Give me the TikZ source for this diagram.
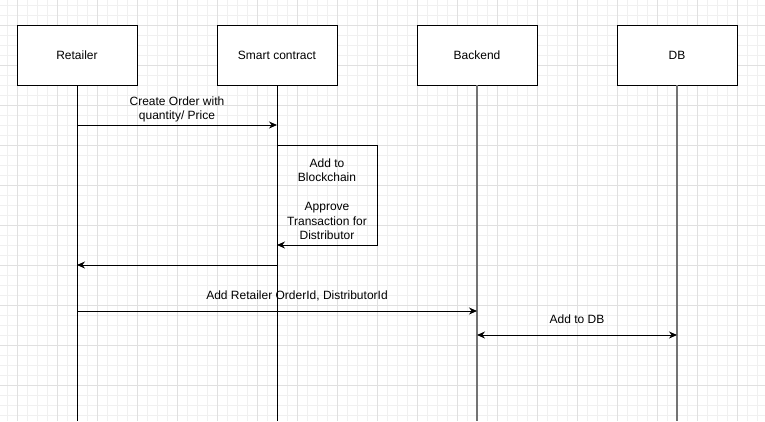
\documentclass[tikz,border=0pt]{standalone}
\usepackage{fontspec}
\setmainfont{Liberation Sans}
\usetikzlibrary{arrows.meta}
\tikzset{
  actor/.style={draw, fill=white, line width=1pt, minimum width=120pt, minimum height=60pt, inner sep=0pt, outer sep=0pt},
  msg/.style={line width=1pt, -{Stealth[length=8pt,width=7pt]}},
  lbl/.style={midway, yshift=15.5pt, align=center},
  minor/.style={black!6, line width=0.8pt},
  major/.style={black!12, line width=0.8pt}
}
\begin{document}
\begin{tikzpicture}[x=1pt, y=-1pt, font=\fontsize{12}{14.5}\selectfont]
  \useasboundingbox (0,0) rectangle (765,421);
  \fill[white] (0,0) rectangle (765,421);
  \foreach \x in {7,17,...,757} \draw[minor] (\x,0) -- (\x,421);
  \foreach \y in {5,15,...,415} \draw[minor] (0,\y) -- (765,\y);
  \foreach \x in {17,57,...,737} \draw[major] (\x,0) -- (\x,421);
  \foreach \y in {25,65,...,385} \draw[major] (0,\y) -- (765,\y);
  \draw
    (77,55) node[actor] (retailer){Retailer}
    (277,55) node[actor] (contract){Smart contract}
    (477,55) node[actor] (backend){Backend}
    (677,55) node[actor] (db){DB};
  \coordinate (retailer end) at (77,421);
  \coordinate (contract end) at (277,421);
  \coordinate (backend end) at (477,421);
  \coordinate (db end) at (677,421);
  \coordinate (r1) at (77,125);
  \coordinate (c1) at (277,125);
  \coordinate (c2) at (277,145);
  \coordinate (a1) at (377,145);
  \coordinate (a2) at (377,245);
  \coordinate (c3) at (277,245);
  \coordinate (c4) at (277,265);
  \coordinate (r4) at (77,265);
  \coordinate (r5) at (77,311);
  \coordinate (b5) at (477,311);
  \coordinate (b6) at (477,335);
  \coordinate (d6) at (677,335);
  \begin{scope}[line width=1pt]
    \draw (retailer) -- (retailer end);
    \draw (contract) -- (contract end);
    \draw[black!55, line width=1.6pt] (backend) -- (backend end);
    \draw[black!55, line width=1.6pt] (db) -- (db end);
  \end{scope}
  \begin{scope}[msg]
    \draw (r1) -- node[lbl]{Create Order with\\quantity/ Price} (c1);
    \draw (c2) -- (a1) -- (a2) -- (c3);
    \draw (c4) -- (r4);
    \draw (r5) -- node[lbl, pos=0.55]{Add Retailer OrderId, DistributorId} (b5);
    \draw[{Stealth[length=8pt,width=7pt]}-{Stealth[length=8pt,width=7pt]}] (b6) -- node[lbl]{Add to DB} (d6);
  \end{scope}
  \node[align=center] (note) at (327,199) {Add to\\Blockchain\\[14.5pt]Approve\\Transaction for\\Distributor};
\end{tikzpicture}
\end{document}
